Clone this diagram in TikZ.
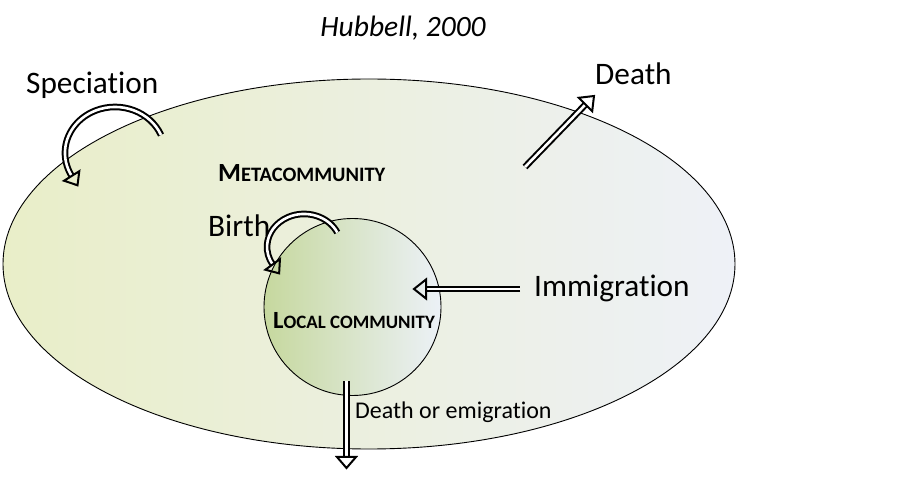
\documentclass[tikz,border=0pt]{standalone}
\usepackage{fontspec}
\setmainfont{Carlito}[Ligatures=NoCommon]
\usetikzlibrary{shapes.geometric}
\definecolor{metaL}{RGB}{233,238,200}
\definecolor{metaR}{RGB}{238,241,247}
\definecolor{locL}{RGB}{198,216,158}
\definecolor{locR}{RGB}{236,241,247}
\tikzset{
  dbl/.style={draw=black, double=white, line width=2pt, double distance=2.6pt},
  headst/.style={draw=black, line width=2pt, line join=miter},
  biglabel/.style={anchor=base west, inner sep=0pt, font=\fontsize{31.3}{36}\selectfont},
  sclabel/.style={anchor=base west, inner sep=0pt, font=\bfseries},
}
\begin{document}
\begin{tikzpicture}[x=1pt,y=1pt]
\useasboundingbox (0,0) rectangle (906,477);
% metacommunity ellipse
\node[ellipse, draw=black, line width=0.9pt, minimum width=732pt, minimum height=370pt, inner sep=0pt,
      left color=metaL, right color=metaR] (meta) at (369,213) {};
% local community circle
\node[circle, draw=black, line width=0.9pt, minimum size=177pt, inner sep=0pt,
      left color=locL, right color=locR] (local) at (352.5,170) {};
% texts
\node[anchor=base, inner sep=0pt, font=\fontsize{29.5}{34}\selectfont\itshape] (title) at (403,440) {Hubbell, 2000};
\node[biglabel] (spec) at (26,383) {Speciation};
\node[biglabel] (death) at (595,392) {Death};
\node[biglabel] (birth) at (208,240) {Birth};
\node[biglabel] (immi) at (534,180.5) {Immigration};
\node[anchor=base west, inner sep=0pt, font=\fontsize{24}{28}\selectfont] (emi) at (355,58.7) {Death or emigration};
\node[sclabel] (metalbl) at (218,295) {{\fontsize{26.2}{30}\selectfont M}{\fontsize{20.5}{24}\selectfont ETACOMMUNITY}};
\node[sclabel] (loclbl) at (273,148.7) {{\fontsize{24.7}{28}\selectfont L}{\fontsize{18.9}{22}\selectfont OCAL COMMUNITY}};
% speciation curved arrow
\coordinate (specS) at (161,342);
\draw[dbl] (specS) arc[start angle=23, end angle=210, x radius=50pt, y radius=46pt] coordinate (specE);
\draw[headst, shift={(specE)}, rotate=-58] (0,-9) -- (11,0) -- (0,9) -- cycle;
% birth curved arrow
\coordinate (birthS) at (337.3,244.5);
\draw[dbl] (birthS) arc[start angle=26, end angle=212, x radius=37pt, y radius=33pt] coordinate (birthE);
\draw[headst, shift={(birthE)}, rotate=-54] (0,-9) -- (11,0) -- (0,9) -- cycle;
% death arrow
\coordinate (deathS) at (525,310);
\coordinate (deathB) at (585.5,372.5);
\draw[dbl] (deathS) -- (deathB);
\draw[headst, shift={(deathB)}, rotate=45] (0,-9.5) -- (12,0) -- (0,9.5) -- cycle;
% immigration arrow
\coordinate (immS) at (520,188);
\coordinate (immB) at (426,188);
\draw[dbl] (immS) -- (immB);
\draw[headst, shift={(immB)}, rotate=180] (0,-9.5) -- (12,0) -- (0,9.5) -- cycle;
% death or emigration arrow
\coordinate (emiS) at (346.5,96);
\coordinate (emiB) at (346.5,20);
\draw[dbl] (emiS) -- (emiB);
\draw[headst, shift={(emiB)}, rotate=-90] (0,-9.5) -- (11,0) -- (0,9.5) -- cycle;
\end{tikzpicture}
\end{document}
